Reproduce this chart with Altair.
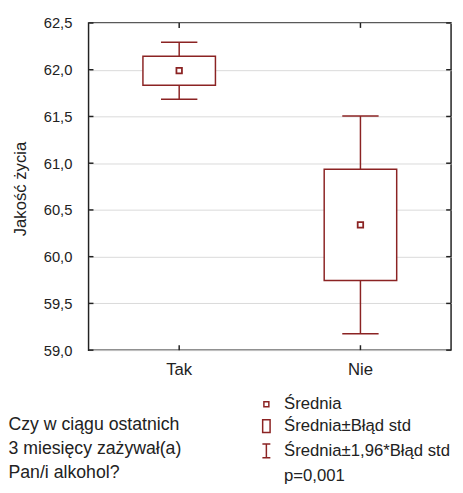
import altair as alt
import pandas as pd

# ---- data ----
cats = ["Tak", "Nie"]
means = [61.99, 60.34]
se_low = [61.835, 59.745]
se_high = [62.145, 60.935]
ci_low = [61.685, 59.175]
ci_high = [62.295, 61.505]
y_ticks = [59.0, 59.5, 60.0, 60.5, 61.0, 61.5, 62.0, 62.5]
legend_labels = ["Średnia", "Średnia±Błąd std", "Średnia±1,96*Błąd std", "p=0,001"]
x_title = ["Czy w ciągu ostatnich", "3 miesięcy zażywał(a)", "Pan/i alkohol?"]
y_title = "Jakość życia"

RED = "#8B2323"
INK = "#222222"
FONT = "Liberation Sans"
W, H = 369, 333

df = pd.DataFrame({"cat": cats, "mean": means, "se_lo": se_low, "se_hi": se_high,
                   "ci_lo": ci_low, "ci_hi": ci_high,
                   "lab": [legend_labels[0]] * len(cats)})
ticks_df = pd.DataFrame({"v": y_ticks})
cats_df = pd.DataFrame({"cat": cats})

xscale = alt.Scale(domain=cats, paddingInner=0, paddingOuter=0)
yscale = alt.Scale(domain=[59.0, 62.5], nice=False, zero=False)

x_axis = alt.Axis(labelAngle=0, labelFontSize=17, labelPadding=12, ticks=False, domain=False,
                  grid=False, title=x_title, titleFontSize=18, titleFontWeight="normal",
                  titleAlign="left", titleAnchor="start", titleX=-82, titleY=81,
                  titleBaseline="alphabetic", titleLineHeight=24.5)
y_axis = alt.Axis(values=y_ticks, labelExpr="replace(format(datum.value, '.1f'), '.', ',')",
                  labelFontSize=15, labelPadding=17, ticks=False, domain=False, grid=True,
                  gridColor="#d9d9d9", gridWidth=1, title=y_title, titleFontSize=17,
                  titleFontWeight="normal", titleX=-64, titleY=H / 2 + 2, titleAngle=270,
                  titleAlign="center", titleBaseline="alphabetic")


def X():
    return alt.X("cat:N", sort=cats, scale=xscale, axis=x_axis)


def Y(field):
    return alt.Y(field, scale=yscale, axis=y_axis)


shape_scale = alt.Scale(domain=legend_labels, range=[
    "M-0.28,-0.28H0.28V0.28H-0.28Z",
    "M-0.42,-0.72H0.42V0.72H-0.42Z",
    "M-0.45,-0.78H0.45M0,-0.78V0.78M-0.45,0.78H0.45",
    "M0,0",
])
legend = alt.Legend(title=None, orient="none", legendX=171, legendY=378, direction="vertical",
                    symbolSize=324, symbolStrokeColor=RED, symbolFillColor="transparent",
                    symbolStrokeWidth=1.5, labelFontSize=17, labelFont=FONT, labelColor=INK,
                    labelOffset=8, rowPadding=4.3, labelLimit=300)

whisker = alt.Chart(df).mark_rule(color=RED, strokeWidth=1.5).encode(
    x=X(), y=Y("ci_lo:Q"), y2="ci_hi:Q")
cap_lo = alt.Chart(df).mark_tick(color=RED, size=37, thickness=1.5, opacity=1).encode(
    x=X(), y=Y("ci_lo:Q"))
cap_hi = alt.Chart(df).mark_tick(color=RED, size=37, thickness=1.5, opacity=1).encode(
    x=X(), y=Y("ci_hi:Q"))
box = alt.Chart(df).mark_bar(fill="white", stroke=RED, strokeWidth=1.5, width={"band": 0.4}).encode(
    x=X(), y=Y("se_lo:Q"), y2="se_hi:Q")
mean_pt = alt.Chart(df).mark_point(filled=False, size=400, strokeWidth=1.8, color=RED, opacity=1).encode(
    x=X(), y=Y("mean:Q"),
    shape=alt.Shape("lab:N", scale=shape_scale, legend=legend),
)

tk_left = alt.Chart(ticks_df).mark_rule(color=INK, strokeWidth=1.5).encode(
    y=Y("v:Q"), x=alt.value(0), x2=alt.value(5))
tk_right = alt.Chart(ticks_df).mark_rule(color=INK, strokeWidth=1.5).encode(
    y=Y("v:Q"), x=alt.value(W - 5), x2=alt.value(W))
tk_bottom = alt.Chart(cats_df).mark_rule(color=INK, strokeWidth=1.5).encode(
    x=X(), y=alt.value(H - 5), y2=alt.value(H))
tk_top = alt.Chart(cats_df).mark_rule(color=INK, strokeWidth=1.5).encode(
    x=X(), y=alt.value(0), y2=alt.value(5))

chart = alt.layer(whisker, cap_lo, cap_hi, box, mean_pt, tk_left, tk_right, tk_bottom, tk_top).properties(
    width=W, height=H, autosize="none",
    padding={"left": 82, "top": 11, "right": 4, "bottom": 133},
    background="white",
).configure_view(stroke=INK, strokeWidth=1.5).configure_axis(
    labelFont=FONT, titleFont=FONT, labelColor=INK, titleColor=INK
)

chart.save("out.html", embed_options={"renderer": "svg", "actions": False})
